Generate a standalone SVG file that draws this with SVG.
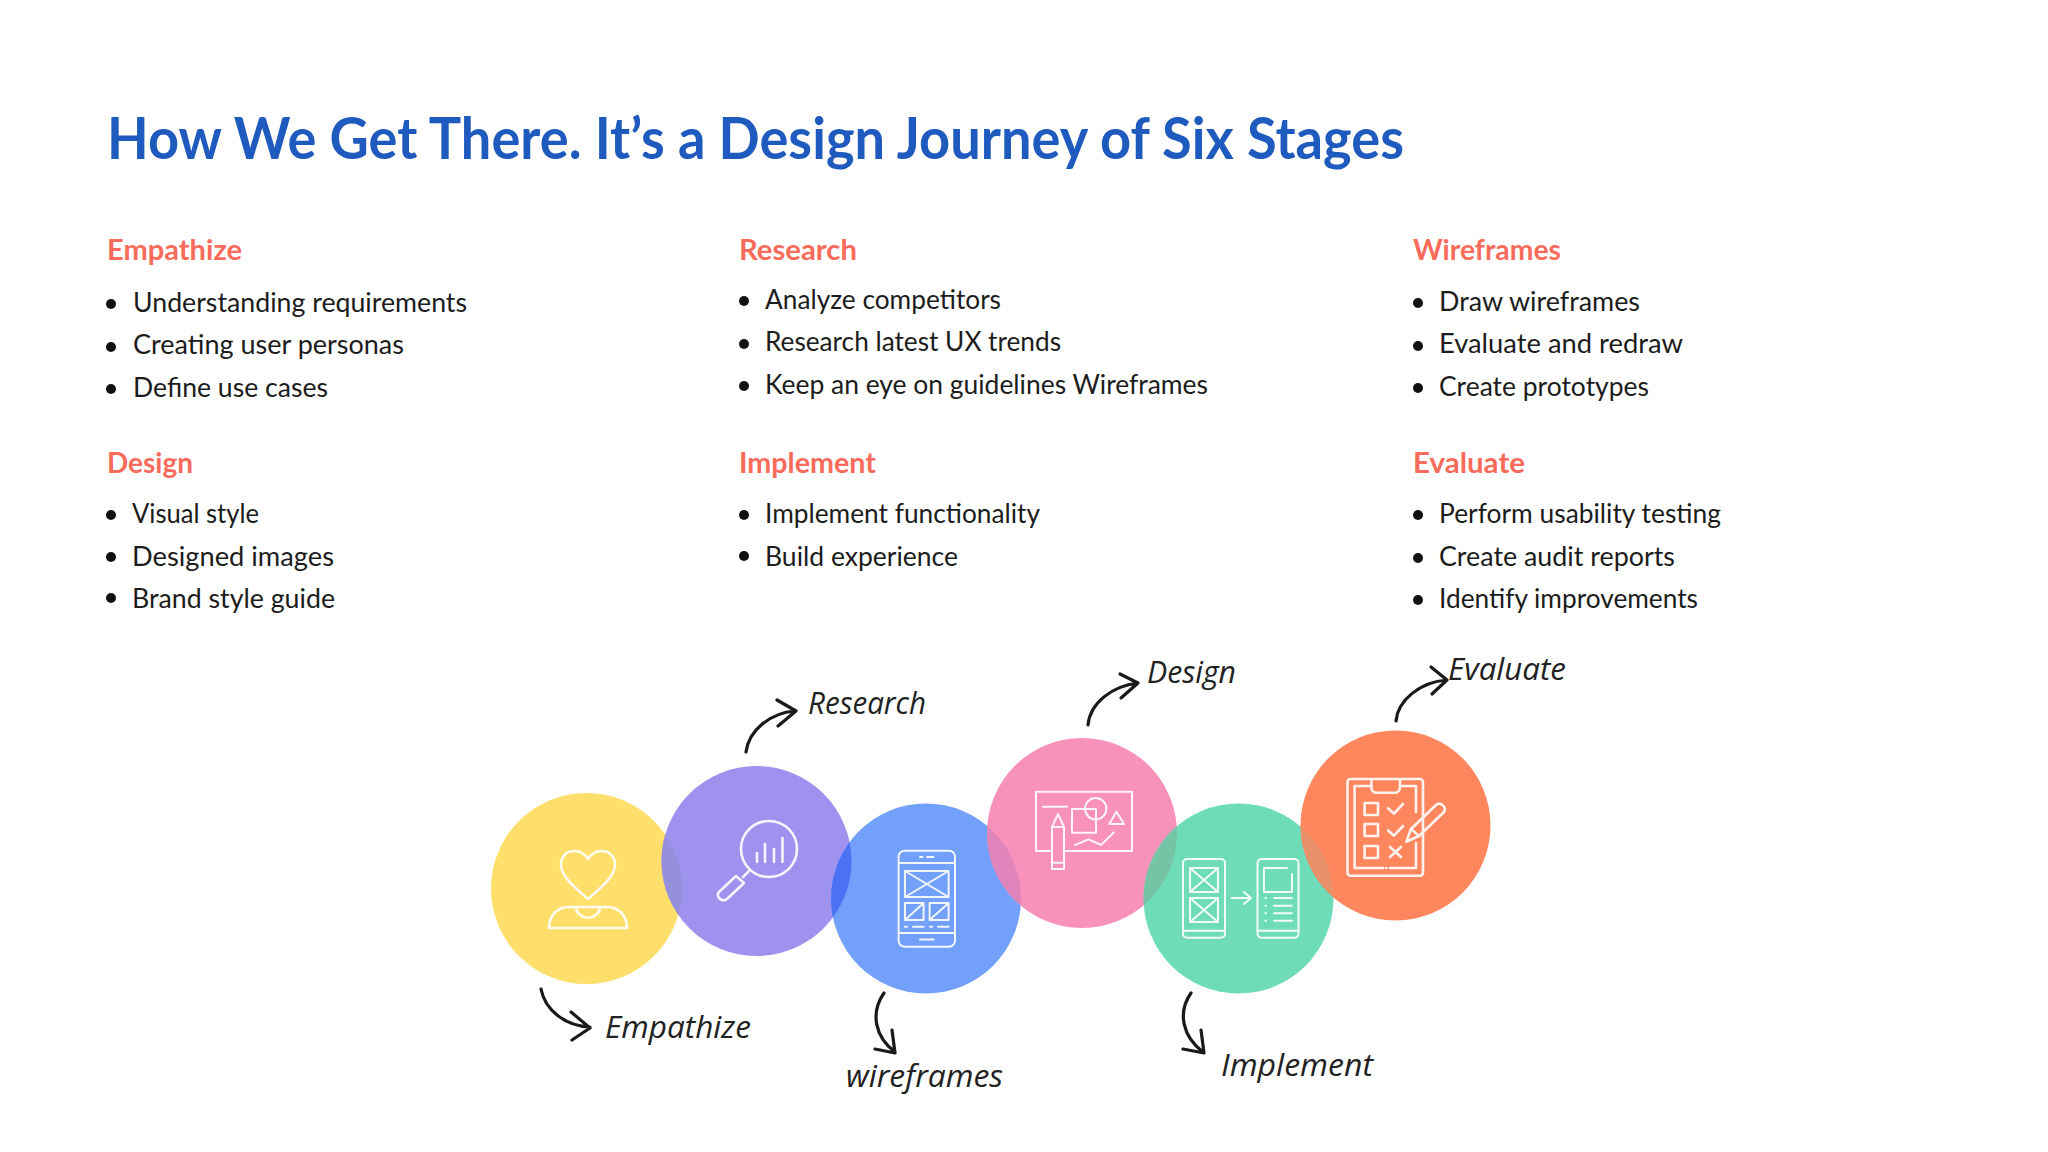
<svg xmlns="http://www.w3.org/2000/svg" width="2048" height="1152" viewBox="0 0 2048 1152">
<style>
text{font-family:"Lato","Open Sans","Liberation Sans",sans-serif}
.title{font-size:57px;font-weight:700;fill:#1f5bbf}
.head{font-size:28px;font-weight:700;fill:#f96b5a}
.item{font-size:27px;fill:#1c1c1c}
.dot{fill:#111}
.hand{font-family:"Open Sans","Liberation Sans",sans-serif;font-style:italic;font-weight:400;font-size:31px;fill:#222}
.ico{fill:none;stroke:#fff;stroke-width:2.6;stroke-linejoin:round;stroke-linecap:round;opacity:.9}
.thin{stroke-width:2}
.arr{fill:none;stroke:#1a1a1a;stroke-width:3.2;stroke-linecap:round;stroke-linejoin:round}
</style>
<defs>
<clipPath id="cPurple"><circle cx="756.5" cy="861" r="95"/></clipPath>
<clipPath id="cBlue"><circle cx="926" cy="898.5" r="95"/></clipPath>
<clipPath id="cPink"><circle cx="1082" cy="833" r="95"/></clipPath>
<clipPath id="cGreen"><circle cx="1238.5" cy="898.5" r="95"/></clipPath>
<clipPath id="cOrange"><circle cx="1395.5" cy="825.5" r="95"/></clipPath>
</defs>
<rect width="2048" height="1152" fill="#fff"/>
<text class="title" x="107" y="159" textLength="1297" lengthAdjust="spacingAndGlyphs">How We Get There. It’s a Design Journey of Six Stages</text>

<g id="list-empathize">
<text class="head" x="107" y="260" textLength="135" lengthAdjust="spacingAndGlyphs">Empathize</text>
<circle class="dot" cx="111" cy="304" r="5"/><circle class="dot" cx="111" cy="347" r="5"/><circle class="dot" cx="111" cy="389" r="5"/>
<text class="item" x="133" y="312" textLength="334" lengthAdjust="spacingAndGlyphs">Understanding requirements</text>
<text class="item" x="133" y="354" textLength="271" lengthAdjust="spacingAndGlyphs">Creating user personas</text>
<text class="item" x="133" y="397" textLength="195" lengthAdjust="spacingAndGlyphs">Define use cases</text>
</g>
<g id="list-research">
<text class="head" x="739" y="260" textLength="118" lengthAdjust="spacingAndGlyphs">Research</text>
<circle class="dot" cx="744" cy="301" r="5"/><circle class="dot" cx="744" cy="344" r="5"/><circle class="dot" cx="744" cy="386" r="5"/>
<text class="item" x="765" y="309" textLength="236" lengthAdjust="spacingAndGlyphs">Analyze competitors</text>
<text class="item" x="765" y="351" textLength="296" lengthAdjust="spacingAndGlyphs">Research latest UX trends</text>
<text class="item" x="765" y="394" textLength="443" lengthAdjust="spacingAndGlyphs">Keep an eye on guidelines Wireframes</text>
</g>
<g id="list-wireframes">
<text class="head" x="1413" y="260" textLength="148" lengthAdjust="spacingAndGlyphs">Wireframes</text>
<circle class="dot" cx="1418" cy="303" r="5"/><circle class="dot" cx="1418" cy="346" r="5"/><circle class="dot" cx="1418" cy="388" r="5"/>
<text class="item" x="1439" y="311" textLength="201" lengthAdjust="spacingAndGlyphs">Draw wireframes</text>
<text class="item" x="1439" y="353" textLength="244" lengthAdjust="spacingAndGlyphs">Evaluate and redraw</text>
<text class="item" x="1439" y="396" textLength="210" lengthAdjust="spacingAndGlyphs">Create prototypes</text>
</g>
<g id="list-design">
<text class="head" x="107" y="473" textLength="86" lengthAdjust="spacingAndGlyphs">Design</text>
<circle class="dot" cx="111" cy="515" r="5"/><circle class="dot" cx="111" cy="557" r="5"/><circle class="dot" cx="111" cy="598" r="5"/>
<text class="item" x="132" y="523" textLength="127" lengthAdjust="spacingAndGlyphs">Visual style</text>
<text class="item" x="132" y="566" textLength="202" lengthAdjust="spacingAndGlyphs">Designed images</text>
<text class="item" x="132" y="608" textLength="203" lengthAdjust="spacingAndGlyphs">Brand style guide</text>
</g>
<g id="list-implement">
<text class="head" x="739" y="473" textLength="137" lengthAdjust="spacingAndGlyphs">Implement</text>
<circle class="dot" cx="744" cy="515" r="5"/><circle class="dot" cx="744" cy="556" r="5"/>
<text class="item" x="765" y="523" textLength="275" lengthAdjust="spacingAndGlyphs">Implement functionality</text>
<text class="item" x="765" y="566" textLength="193" lengthAdjust="spacingAndGlyphs">Build experience</text>
</g>
<g id="list-evaluate">
<text class="head" x="1413" y="473" textLength="112" lengthAdjust="spacingAndGlyphs">Evaluate</text>
<circle class="dot" cx="1418" cy="515" r="5"/><circle class="dot" cx="1418" cy="558" r="5"/><circle class="dot" cx="1418" cy="600" r="5"/>
<text class="item" x="1439" y="523" textLength="282" lengthAdjust="spacingAndGlyphs">Perform usability testing</text>
<text class="item" x="1439" y="566" textLength="236" lengthAdjust="spacingAndGlyphs">Create audit reports</text>
<text class="item" x="1439" y="608" textLength="259" lengthAdjust="spacingAndGlyphs">Identify improvements</text>
</g>

<g id="node-empathize">
<circle cx="586.5" cy="888.5" r="95.5" fill="#ffdf6b"/>
<g class="ico">
<path d="M588 899C574 887 561 876 561 865C561 856 567 851 574 851C580 851 585 854 588 859C591 854 596 851 602 851C610 851 615 857 615 865C615 876 602 887 588 899Z"/>
<path d="M549 928H627C627 916 619 907 607 907H569C557 907 549 916 549 928Z"/>
<path d="M576 908C578 921 598 921 600 908"/>
</g>
<text class="hand" x="605" y="1038" textLength="146" lengthAdjust="spacingAndGlyphs">Empathize</text>
</g>

<g id="node-research">
<circle cx="756.5" cy="861" r="95" fill="#9e92ee"/>
<g class="ico">
<circle cx="769" cy="849" r="28"/>
<path d="M757 862V853M765 862V844M774 862V849M782.5 862V838"/>
<path d="M749 871L743 877"/>
<path d="M736 876L744 883L727 899C722 903 715 896 719 892Z"/>
</g>
<text class="hand" x="808" y="714" textLength="118" lengthAdjust="spacingAndGlyphs">Research</text>
</g>

<g id="node-wireframes">
<circle cx="926" cy="898.5" r="95" fill="#72a0fb"/>
<g class="ico thin">
<rect x="898.6" y="850.7" width="56.4" height="96" rx="6"/>
<path d="M899 863H955M899 933H955"/>
<path d="M920 857H922.5M927 857H933.6M920 939.5H933.6"/>
<path d="M905 871H948.6V897H905ZM905 871L948.6 897M948.6 871L905 897"/>
<path d="M905 903H923.6V920H905ZM905 920L923.6 903M929.6 903H948.6V920H929.6ZM929.6 920L948.6 903"/>
<path d="M905 926.7H907M913 926.7H923.6M930 926.7H932M938 926.7H948.6"/>
</g>
<text class="hand" x="846" y="1087" textLength="157" lengthAdjust="spacingAndGlyphs">wireframes</text>
</g>

<g id="node-design">
<circle cx="1082" cy="833" r="95" fill="#f992ba"/>
<g class="ico thin">
<rect x="1036" y="791.7" width="96" height="59.3"/>
<path d="M1043 806.7H1067"/>
<rect x="1072" y="809" width="24" height="23.7"/>
<circle cx="1095.7" cy="808.7" r="10.7"/>
<path d="M1116.4 811.7L1124 824H1109.3Z"/>
<path d="M1075 845L1088.6 839.3L1101 845L1114 832.3"/>
<path fill="#f992ba" d="M1058 814L1064 827V869H1052V827ZM1052 827H1064M1052 862.7H1064"/>
</g>
<text class="hand" x="1147" y="683" textLength="89" lengthAdjust="spacingAndGlyphs">Design</text>
</g>

<g id="node-implement">
<circle cx="1238.5" cy="898.5" r="95" fill="#6edcb9"/>
<g class="ico thin">
<rect x="1183" y="859" width="42" height="78.7" rx="4"/>
<path d="M1183 930.7H1225"/>
<path d="M1190 868H1218V892H1190ZM1190 868L1218 892M1218 868L1190 892"/>
<path d="M1190 898H1218V922H1190ZM1190 898L1218 922M1218 898L1190 922"/>
<path d="M1231.4 898H1251M1244 892L1251 898L1244 904"/>
<rect x="1257.5" y="859" width="41" height="78.7" rx="4"/>
<path d="M1257.5 930.7H1298.5"/>
<path d="M1287 868H1264V892H1292V874"/>
<path d="M1265.4 898H1266M1274 898H1292M1265.4 905.7H1266M1274 905.7H1292M1265.4 913.3H1266M1274 913.3H1292M1265.4 920.7H1266M1274 920.7H1292"/>
</g>
<text class="hand" x="1221" y="1076" textLength="152" lengthAdjust="spacingAndGlyphs">Implement</text>
</g>

<g id="node-evaluate">
<circle cx="1395.5" cy="825.5" r="95" fill="#ff865d"/>
<g class="ico">
<rect x="1347.5" y="779" width="75.5" height="96.7" rx="3"/>
<path d="M1371.4 786H1354.6V868H1383M1390 868H1416V843M1416 812V786H1400"/>
<path d="M1371.4 780V787C1371.4 790 1373 792.7 1376 792.7H1395C1398 792.7 1400 790 1400 787V780"/>
<path d="M1386 868H1386.5"/>
<rect x="1364.6" y="803" width="13.4" height="12"/><rect x="1364.6" y="824" width="13.4" height="12"/><rect x="1364.6" y="846" width="13.4" height="12"/>
<path d="M1388 808.3L1394 813.7L1403 804M1388 830.3L1394 835.7L1403 826M1390 847L1401 857M1401 847L1390 857"/>
<path d="M1406.4 841.7L1411 829L1436 805C1440 801 1447 807 1444 812L1419 836Z"/>
<path d="M1411 829L1419 836"/>
</g>
<text class="hand" x="1448" y="680" textLength="118" lengthAdjust="spacingAndGlyphs">Evaluate</text>
</g>

<g id="overlaps">
<circle cx="586.5" cy="888.5" r="95.5" fill="#9690dc" clip-path="url(#cPurple)"/>
<circle cx="926" cy="898.5" r="95" fill="#4a72f2" clip-path="url(#cPurple)"/>
<circle cx="926" cy="898.5" r="95" fill="#e085bb" clip-path="url(#cPink)"/>
<circle cx="1082" cy="833" r="95" fill="#76c4a6" clip-path="url(#cGreen)"/>
<circle cx="1238.5" cy="898.5" r="95" fill="#e8906a" clip-path="url(#cOrange)"/>
</g>

<g id="connectors" class="arr">
<path d="M746 752C749 730 770 713 795 711M777 700L796 711L778 726"/>
<path d="M1088 725C1090 703 1112 686 1138 683M1120 674L1138 683L1121 698"/>
<path d="M1396 721C1398 700 1420 682 1447 680M1431 667L1447 680L1432 694"/>
<path d="M541 989C545 1010 565 1026 590 1027M571 1012L590 1028L572 1040"/>
<path d="M884 993C870 1013 875 1037 895 1052M892 1030L895 1053L875 1049"/>
<path d="M1191 993C1177 1013 1183 1037 1203 1052M1201 1030L1204 1053L1183 1049"/>
</g>
</svg>
